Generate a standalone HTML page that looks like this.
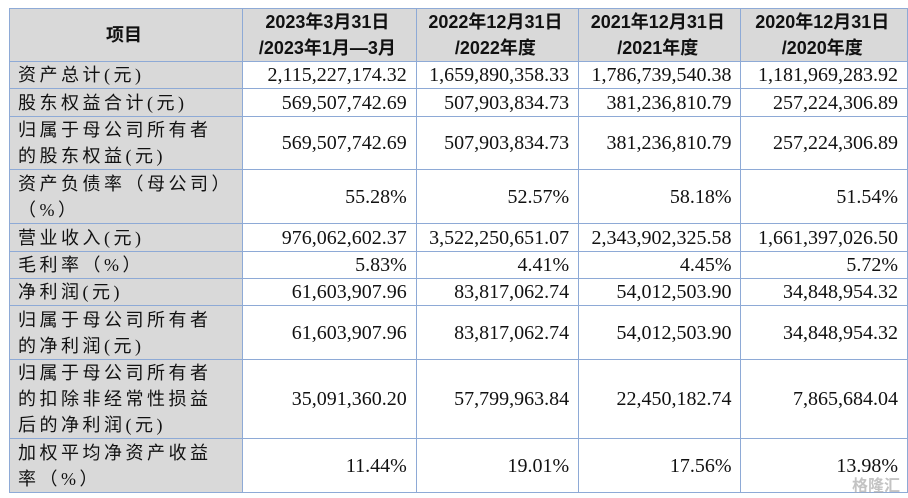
<!DOCTYPE html>
<html><head><meta charset="utf-8"><style>
body{margin:0;width:908px;height:498px;background:#fff;overflow:hidden;position:relative}
table{position:absolute;left:9px;top:8px;border-collapse:collapse;table-layout:fixed;font-family:"Liberation Serif","Noto Serif CJK SC",serif;font-size:20px;color:#111}
td,th{border:1.5px solid #8eaad6;padding:0 9px 0 5px;line-height:24px;overflow:hidden;white-space:nowrap}
th{background:#d9d9d9;font-family:"Liberation Sans","Noto Sans CJK SC",sans-serif;font-weight:bold;font-size:18px;text-align:center;line-height:26px}
td.k{background:#d9d9d9;text-align:left;letter-spacing:3.5px;font-family:"Liberation Serif","Noto Sans CJK SC",serif;font-size:18px;line-height:26px;padding-left:8px}
td.v{text-align:right}
.wm{position:absolute;right:8px;bottom:2px;color:#aaa;font:bold 16px "Noto Sans CJK SC",sans-serif;opacity:.7}
</style></head><body>
<table>
<colgroup><col style="width:215px"><col style="width:178px"><col style="width:164px"><col style="width:164px"><col style="width:169px"></colgroup>
<tr style="height:53px"><th>项目</th><th>2023年3月31日<br>/2023年1月—3月</th><th>2022年12月31日<br>/2022年度</th><th>2021年12月31日<br>/2021年度</th><th>2020年12月31日<br>/2020年度</th></tr>
<tr style="height:27px"><td class="k">资产总计(元)</td><td class="v">2,115,227,174.32</td><td class="v">1,659,890,358.33</td><td class="v">1,786,739,540.38</td><td class="v">1,181,969,283.92</td></tr>
<tr style="height:28px"><td class="k">股东权益合计(元)</td><td class="v">569,507,742.69</td><td class="v">507,903,834.73</td><td class="v">381,236,810.79</td><td class="v">257,224,306.89</td></tr>
<tr style="height:52px"><td class="k">归属于母公司所有者<br>的股东权益(元)</td><td class="v">569,507,742.69</td><td class="v">507,903,834.73</td><td class="v">381,236,810.79</td><td class="v">257,224,306.89</td></tr>
<tr style="height:54px"><td class="k">资产负债率（母公司）<br>（%）</td><td class="v">55.28%</td><td class="v">52.57%</td><td class="v">58.18%</td><td class="v">51.54%</td></tr>
<tr style="height:28px"><td class="k">营业收入(元)</td><td class="v">976,062,602.37</td><td class="v">3,522,250,651.07</td><td class="v">2,343,902,325.58</td><td class="v">1,661,397,026.50</td></tr>
<tr style="height:27px"><td class="k">毛利率（%）</td><td class="v">5.83%</td><td class="v">4.41%</td><td class="v">4.45%</td><td class="v">5.72%</td></tr>
<tr style="height:27px"><td class="k">净利润(元)</td><td class="v">61,603,907.96</td><td class="v">83,817,062.74</td><td class="v">54,012,503.90</td><td class="v">34,848,954.32</td></tr>
<tr style="height:54px"><td class="k">归属于母公司所有者<br>的净利润(元)</td><td class="v">61,603,907.96</td><td class="v">83,817,062.74</td><td class="v">54,012,503.90</td><td class="v">34,848,954.32</td></tr>
<tr style="height:78px"><td class="k">归属于母公司所有者<br>的扣除非经常性损益<br>后的净利润(元)</td><td class="v">35,091,360.20</td><td class="v">57,799,963.84</td><td class="v">22,450,182.74</td><td class="v">7,865,684.04</td></tr>
<tr style="height:54px"><td class="k">加权平均净资产收益<br>率（%）</td><td class="v">11.44%</td><td class="v">19.01%</td><td class="v">17.56%</td><td class="v">13.98%</td></tr>
</table>
<div class="wm">格隆汇</div>
</body></html>
